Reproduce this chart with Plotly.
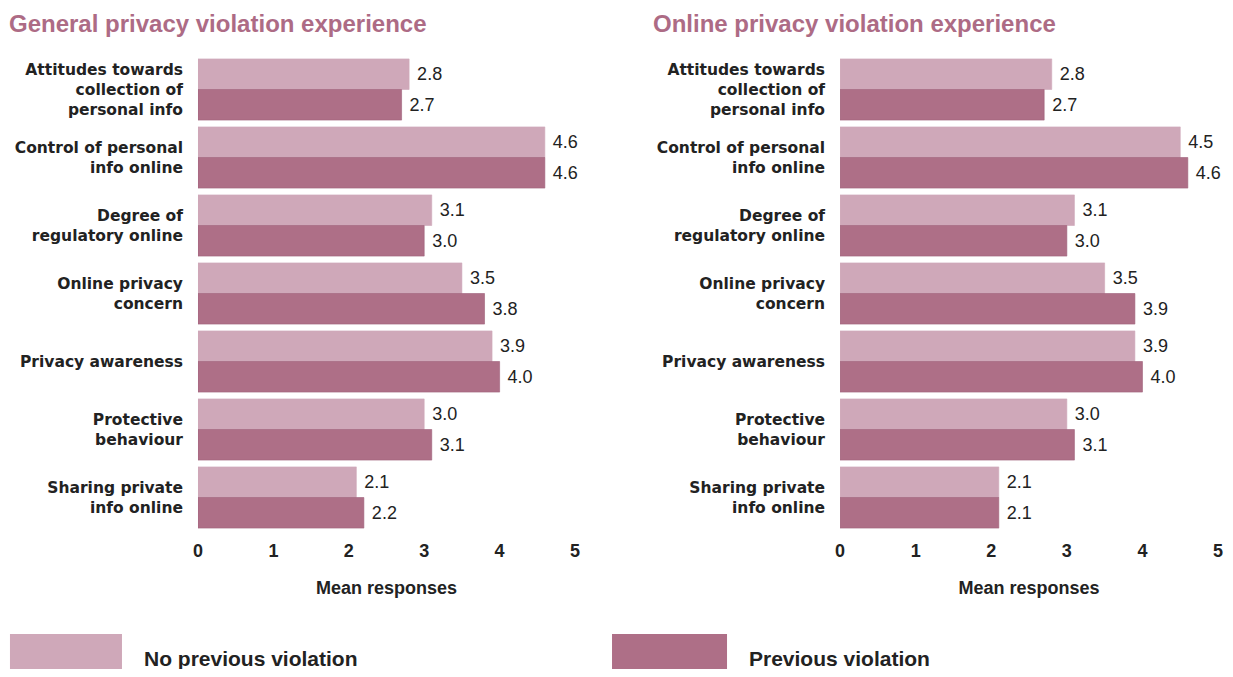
import plotly.graph_objects as go
from plotly.subplots import make_subplots

# --------------------------------------------
# Data
# --------------------------------------------
categories = [
    "Attitudes towards<br>collection of<br>personal info",
    "Control of personal<br>info online",
    "Degree of<br>regulatory online",
    "Online privacy<br>concern",
    "Privacy awareness",
    "Protective<br>behaviour",
    "Sharing private<br>info online",
]
panel_titles = ["General privacy violation experience", "Online privacy violation experience"]
series_names = ["No previous violation", "Previous violation"]

general_no_prev = [2.8, 4.6, 3.1, 3.5, 3.9, 3.0, 2.1]
general_prev = [2.7, 4.6, 3.0, 3.8, 4.0, 3.1, 2.2]
online_no_prev = [2.8, 4.5, 3.1, 3.5, 3.9, 3.0, 2.1]
online_prev = [2.7, 4.6, 3.0, 3.9, 4.0, 3.1, 2.1]

x_ticks = [0, 1, 2, 3, 4, 5]
x_title = "Mean responses"

# --------------------------------------------
# Styles
# --------------------------------------------
LIGHT = "#CFA8B9"
DARK = "#AE6F87"
TITLE_COLOR = "#AD6B85"
TEXT = "#222222"
FONT = "Liberation Sans, Arial, sans-serif"
LABEL_FONT = "DejaVu Sans, sans-serif"

# page has an 8px body margin, so the figure is a bit smaller than the window
OFF = 8
W, H = 1233 - 2 * OFF, 677 - 2 * OFF


def px(x):
    # small horizontal calibration measured from a test render
    x = (x - 5.1) / 0.9917
    return (x - OFF) / W


def py(y):
    return 1 - (y - OFF) / H


fig = make_subplots(rows=1, cols=2)

panels = [(general_no_prev, general_prev), (online_no_prev, online_prev)]
for col, (no_prev, prev) in enumerate(panels, start=1):
    for name, vals, color, line_col in [
        (series_names[0], no_prev, LIGHT, LIGHT),
        (series_names[1], prev, DARK, "#9E5F78"),
    ]:
        fig.add_trace(go.Bar(
            y=categories,
            x=vals,
            orientation="h",
            name=name,
            marker=dict(color=color, line=dict(color=line_col, width=0.6)),
            text=[f"\u00a0{v:.1f}" for v in vals],
            textposition="outside",
            textfont=dict(family=FONT, size=18, color=TEXT),
            cliponaxis=False,
            showlegend=False,
            hoverinfo="skip",
        ), row=1, col=col)

# axis domains (paper fractions)
x_domains = [(px(198), px(575)), (px(840), px(1218))]
y_domain = (py(531.5), py(55.5))

for i, name in enumerate(["xaxis", "xaxis2"]):
    fig.layout[name].update(
        domain=x_domains[i],
        range=[0, 5],
        tickvals=x_ticks,
        ticktext=[str(t) for t in x_ticks],
        tickfont=dict(family=FONT, size=18, color=TEXT, weight="bold"),
        showgrid=False,
        zeroline=False,
        showline=False,
        ticks="",
        ticklabelstandoff=6,
        title=dict(text=f"<b>{x_title}</b>",
                   font=dict(family=FONT, size=18, color=TEXT),
                   standoff=21),
    )
for name in ["yaxis", "yaxis2"]:
    fig.layout[name].update(
        domain=y_domain,
        autorange="reversed",
        showgrid=False,
        zeroline=False,
        showline=False,
        ticks="",
        ticklabelstandoff=14,
        tickfont=dict(family=LABEL_FONT, size=15.5, color=TEXT, weight="bold"),
    )

annotations = []
for i, t in enumerate(panel_titles):
    annotations.append(dict(
        text=f"<b>{t}</b>", xref="paper", yref="paper",
        x=px([7, 651][i]), y=py(8), xanchor="left", yanchor="top",
        showarrow=False, font=dict(family=FONT, size=24, color=TITLE_COLOR),
    ))

# legend swatches
shapes = []
legend_boxes = [(10, 122, 142), (612, 727, 747)]
for (x0, x1, tx), name, color in zip(legend_boxes, series_names, [LIGHT, DARK]):
    shapes.append(dict(type="rect", xref="paper", yref="paper",
                       x0=px(x0), x1=px(x1), y0=py(690), y1=py(634),
                       fillcolor=color, line=dict(width=0)))
    annotations.append(dict(
        text=f"<b>{name}</b>", xref="paper", yref="paper",
        x=px(tx), y=py(658), xanchor="left", yanchor="middle",
        showarrow=False, font=dict(family=FONT, size=21, color=TEXT),
    ))

fig.update_layout(
    width=W, height=H,
    margin=dict(l=0, r=0, t=0, b=0),
    barmode="group",
    bargap=0.1,
    bargroupgap=0.0,
    plot_bgcolor="white",
    paper_bgcolor="white",
    annotations=annotations,
    shapes=shapes,
)

fig.write_html("out.html")
